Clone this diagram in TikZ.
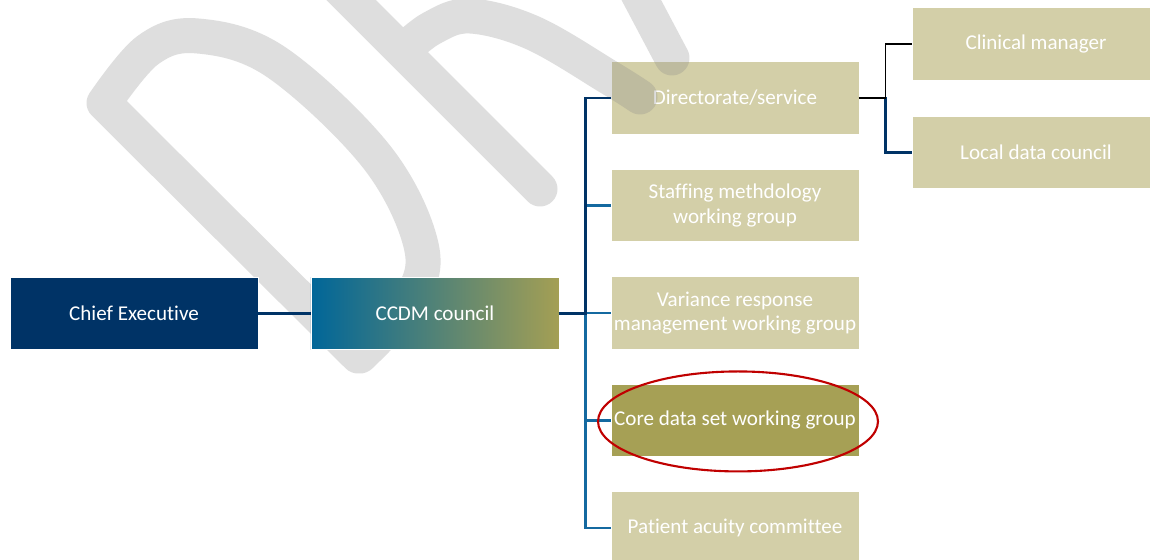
\documentclass[tikz,border=0pt]{standalone}
\usepackage{fontspec}
\setmainfont{Carlito}[Ligatures=NoCommon]
\usetikzlibrary{positioning,shapes.geometric,calc}

\definecolor{chiefnavy}{RGB}{0,51,102}
\definecolor{linkblue}{RGB}{20,105,160}
\definecolor{tanfill}{RGB}{211,207,168}
\definecolor{olivefill}{RGB}{166,160,85}
\definecolor{councilblue}{RGB}{0,102,153}
\definecolor{councilolive}{RGB}{164,159,84}
\definecolor{markgray}{RGB}{135,135,135}
\definecolor{ringred}{RGB}{192,0,0}

\begin{document}
\begin{tikzpicture}[x=0.02cm, y=-0.02cm, font=\fontsize{12}{14}\selectfont,
  unitbox/.style={rectangle, minimum width=4.96cm, minimum height=1.45cm, inner sep=0pt, outer sep=0pt, text=white, align=center, draw=white, line width=0.4pt},
  tanbox/.style={unitbox, fill=tanfill},
  navylink/.style={draw=chiefnavy, line width=1.5pt},
  bluelink/.style={draw=linkblue, line width=1.4pt},
  thinlink/.style={draw=black, line width=0.9pt},
  watermark/.style={draw=markgray, draw opacity=0.27, line width=0.7cm, line cap=round, line join=round}]

  \path[use as bounding box, fill=white] (0,0) rectangle (1150,560);

  % right hand column
  \node[tanbox] (dir) at (735,98) {Directorate/service};
  \node[tanbox, below=0.7cm of dir] (staff) {Staffing methdology\\working group};
  \node[tanbox, below=0.7cm of staff] (var) {Variance response\\management working group};
  \node[unitbox, fill=olivefill, below=0.7cm of var] (core) {Core data set working group};
  \node[tanbox, below=0.7cm of core] (pat) {Patient acuity committee};
  \node[tanbox] (clin) at (1036,44) {Clinical manager};
  \node[tanbox, below=0.72cm of clin] (loc) {Local data council};

  % draft mark
  \draw[watermark] (358,356) -- (104,103)
    plot[smooth, tension=0.6] coordinates {(104,103) (148,50) (198,36) (276,62) (376,156) (421,245) (410,300) (360,356)}
    (330,-21) -- (540,189)
    plot[smooth, tension=0.6] coordinates {(404,50) (432,28) (470,16) (533,33) (610,78) (640,97)}
    (636,-10) -- (672,58);

  \node[unitbox, fill=chiefnavy] (ce) at (134,313.5) {Chief Executive};
  \node[unitbox, left color=councilblue, right color=councilolive, right=1.06cm of ce] (ccdm) {CCDM council};

  \draw[navylink] (ce) -- (ccdm);
  \draw[bluelink] (ccdm.east) -- ++(26.5,0) |- (staff.west);
  \draw[bluelink] (ccdm.east) -- ++(26.5,0) |- (var.west);
  \draw[bluelink] (ccdm.east) -- ++(26.5,0) |- (core.west);
  \draw[bluelink] (ccdm.east) -- ++(26.5,0) |- (pat.west);
  \draw[navylink] (ccdm.east) -- ++(26.5,0) |- (dir.west);
  \draw[navylink, line width=1.3pt] (dir.east) -- ++(26.5,0) |- (loc.west);
  \draw[thinlink] (dir.east) -- ++(26.5,0) |- (clin.west);

  \node[ellipse, draw=ringred, line width=1.2pt, minimum width=5.6cm, minimum height=2cm, xshift=0.06cm, yshift=-0.02cm] (ring) at (core) {};
\end{tikzpicture}
\end{document}
